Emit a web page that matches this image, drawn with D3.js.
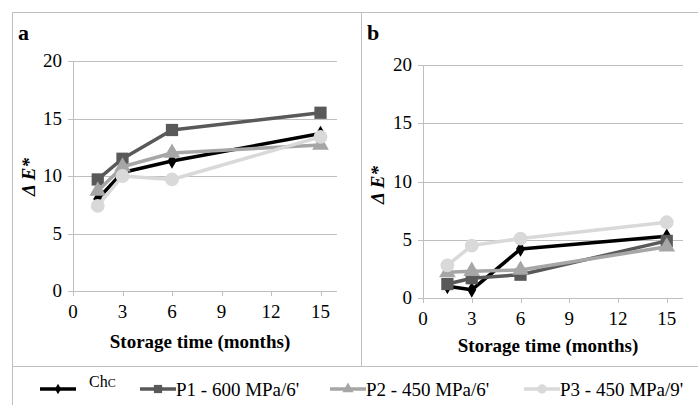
<!DOCTYPE html>
<html>
<head>
<meta charset="utf-8">
<script src="https://cdn.jsdelivr.net/npm/d3@7"></script>
</head>
<body style="margin:0">
<svg width="698" height="405"></svg>
<script>
var months = [1.5, 3, 6, 15];
var seriesNames = ["Chc", "P1 - 600 MPa/6'", "P2 - 450 MPa/6'", "P3 - 450 MPa/9'"];
var xTicks = [0, 3, 6, 9, 12, 15];
var yTicks = [0, 5, 10, 15, 20];

// panel a
var aChc = [8.0, 10.3, 11.3, 13.7];
var aP1 = [9.7, 11.5, 14.0, 15.5];
var aP2 = [8.7, 10.8, 12.0, 12.7];
var aP3 = [7.4, 10.0, 9.7, 13.4];

// panel b
var bChc = [1.0, 0.7, 4.2, 5.3];
var bP1 = [1.2, 1.7, 2.0, 4.9];
var bP2 = [2.2, 2.3, 2.4, 4.4];
var bP3 = [2.8, 4.5, 5.1, 6.5];

var colors = ["#000000", "#595959", "#a6a6a6", "#d9d9d9"];
var shapes = [d3.symbolDiamond, d3.symbolSquare, d3.symbolTriangle, d3.symbolCircle];
var sizes = [70, 150, 120, 150];

var svg = d3.select("svg");
var frame = "#bfbfbf";

function txt(sel, size, weight, style) {
    return sel.attr("font-family", "Liberation Serif")
        .style("font-family", "'Liberation Serif'")
        .style("font-size", size + "px")
        .style("font-weight", weight || "normal")
        .style("font-style", style || "normal");
}

// frame lines
svg.append("line").attr("x1", 12.5).attr("x2", 698).attr("y1", 12.5).attr("y2", 12.5).attr("stroke", frame);
svg.append("line").attr("x1", 12.5).attr("x2", 12.5).attr("y1", 12.5).attr("y2", 405).attr("stroke", frame);
svg.append("line").attr("x1", 361.5).attr("x2", 361.5).attr("y1", 12.5).attr("y2", 366.5).attr("stroke", frame);
svg.append("line").attr("x1", 12.5).attr("x2", 698).attr("y1", 366.5).attr("y2", 366.5).attr("stroke", frame);

function panel(cfg) {
    var x = d3.scaleLinear().domain([0, 16]).range([cfg.left, cfg.right]);
    var y = d3.scaleLinear().domain([0, 20]).range([cfg.bottom, cfg.top]);

    // gridlines
    svg.selectAll(".grid" + cfg.label).data(yTicks.slice(1)).enter().append("line")
        .attr("x1", cfg.left).attr("x2", cfg.right)
        .attr("y1", d => Math.round(y(d)) + 0.5).attr("y2", d => Math.round(y(d)) + 0.5)
        .attr("stroke", frame);

    // axis lines and ticks
    svg.append("line").attr("x1", Math.round(cfg.left) + 0.5).attr("x2", Math.round(cfg.left) + 0.5)
        .attr("y1", cfg.top).attr("y2", cfg.bottom).attr("stroke", frame);
    svg.append("line").attr("x1", cfg.left - 5).attr("x2", cfg.right)
        .attr("y1", Math.round(cfg.bottom) + 0.5).attr("y2", Math.round(cfg.bottom) + 0.5).attr("stroke", frame);

    yTicks.forEach(function(v) {
        svg.append("line").attr("x1", cfg.left - 5).attr("x2", cfg.left)
            .attr("y1", Math.round(y(v)) + 0.5).attr("y2", Math.round(y(v)) + 0.5).attr("stroke", frame);
        txt(svg.append("text"), 19).attr("x", cfg.left - 11).attr("y", y(v) + 6)
            .attr("text-anchor", "end").text(v);
    });
    xTicks.forEach(function(v) {
        svg.append("line").attr("x1", Math.round(x(v)) + 0.5).attr("x2", Math.round(x(v)) + 0.5)
            .attr("y1", cfg.bottom).attr("y2", cfg.bottom + 5).attr("stroke", frame);
        txt(svg.append("text"), 19).attr("x", x(v)).attr("y", cfg.bottom + 27)
            .attr("text-anchor", "middle").text(v);
    });

    var line = d3.line().x((d, i) => x(months[i])).y(d => y(d));
    cfg.series.forEach(function(vals, s) {
        svg.append("path").datum(vals).attr("d", line)
            .attr("fill", "none").attr("stroke", colors[s]).attr("stroke-width", 3.5)
            .attr("stroke-linejoin", "round");
        svg.selectAll(".m" + cfg.label + s).data(vals).enter().append("path")
            .attr("d", d3.symbol().type(shapes[s]).size(sizes[s]))
            .attr("transform", (d, i) => "translate(" + x(months[i]) + "," + y(d) + ")")
            .attr("fill", colors[s]);
    });

    txt(svg.append("text"), 22, "bold").attr("x", cfg.labelX).attr("y", 40).text(cfg.label);

    txt(svg.append("text"), 19, "bold").attr("x", (cfg.left + cfg.right) / 2 - 5).attr("y", cfg.titleY)
        .attr("text-anchor", "middle").text("Storage time (months)");

    txt(svg.append("text"), 19, "bold", "italic")
        .attr("transform", "translate(" + cfg.yTitleX + "," + cfg.yTitleY + ") rotate(-90)")
        .attr("text-anchor", "middle").text("\u0394 E*");
}

panel({ left: 73, right: 337, top: 61, bottom: 291, series: [aChc, aP1, aP2, aP3],
    label: "a", labelX: 18, titleY: 348, yTitleX: 35, yTitleY: 177 });
panel({ left: 423, right: 683, top: 65, bottom: 298, series: [bChc, bP1, bP2, bP3],
    label: "b", labelX: 367, titleY: 352, yTitleX: 384, yTitleY: 185 });

// legend
var legendX = [40, 140, 330, 524];
seriesNames.forEach(function(name, s) {
    var lx = legendX[s];
    svg.append("line").attr("x1", lx).attr("x2", lx + 36).attr("y1", 389).attr("y2", 389)
        .attr("stroke", colors[s]).attr("stroke-width", 3.5);
    svg.append("path").attr("d", d3.symbol().type(shapes[s]).size(sizes[s] * 0.45))
        .attr("transform", "translate(" + (lx + 18) + ",389)").attr("fill", colors[s]);
    var t = txt(svg.append("text"), 19).attr("fill", "#000");
    if (s === 0) {
        t.attr("x", lx + 49).attr("y", 387);
        t.append("tspan").style("font-size", "16px").text("Ch");
        t.append("tspan").style("font-size", "12px").text("C");
    } else {
        t.attr("x", lx + 36).attr("y", 396).text(name);
    }
});
</script>
</body>
</html>
